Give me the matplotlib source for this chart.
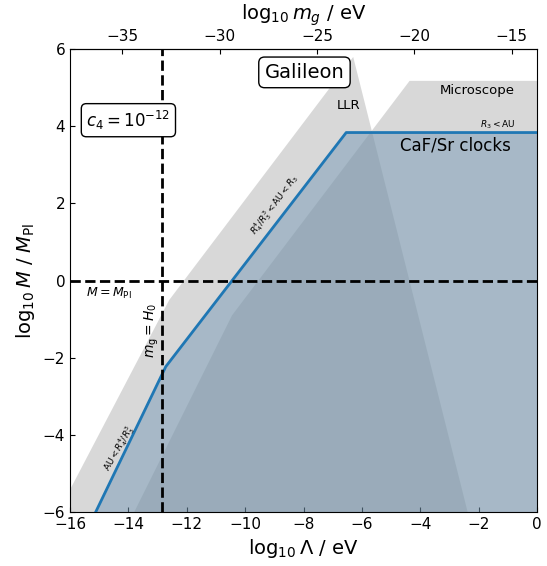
import numpy as np
import matplotlib
matplotlib.use('Agg')
import matplotlib.pyplot as plt

# Batas-batas daerah (log10 Lambda / eV, log10 M / M_Pl)
llr_x = [-16.4, -12.6, -6.3, -2.38]
llr_y = [-6.0, -0.5, 5.8, -6.0]

micro_x = [-13.8, -10.45, -4.37, 0.0, 0.0]
micro_y = [-6.0, -0.9, 5.18, 5.18, -6.0]

clock_x = [-15.12, -12.72, -6.54, 0.0]
clock_y = [-6.0, -2.23, 3.84, 3.84]

lam_H0 = -12.85
logMpl = 27.38


def lam_to_mg(lam):
    return (3 * lam - logMpl) / 2


def mg_to_lam(mg):
    return (2 * mg + logMpl) / 3


fig = plt.figure(figsize=(5.47, 5.66), dpi=100)
ax = fig.add_axes([0.128, 0.0954, 0.854, 0.8176])

# daerah abu-abu
ax.fill(llr_x, llr_y, color='gray', alpha=0.3, lw=0, zorder=1)
ax.fill(micro_x, micro_y, color='gray', alpha=0.3, lw=0, zorder=1)

# daerah jam atom
ax.fill_between(clock_x, clock_y, -6, color=(0.48, 0.61, 0.72), alpha=0.52, lw=0, zorder=2)
ax.plot(clock_x, clock_y, color='#1f77b4', lw=2, zorder=3)

# garis putus-putus
ax.axvline(lam_H0, color='k', ls='--', lw=2, zorder=4)
ax.axhline(0, color='k', ls='--', lw=2, zorder=4)

ax.set_xlim(-16, 0)
ax.set_ylim(-6, 6)
ax.set_xticks(np.arange(-16, 1, 2))
ax.set_yticks(np.arange(-6, 7, 2))
ax.tick_params(direction='in', labelsize=11, right=False)
ax.set_xlabel(r'$\log_{10}\Lambda$ / eV', fontsize=14)
ax.set_ylabel(r'$\log_{10}M$ / $M_{\rm Pl}$', fontsize=14)

top = ax.secondary_xaxis('top', functions=(lam_to_mg, mg_to_lam))
top.set_xticks([-35, -30, -25, -20, -15])
top.tick_params(direction='in', labelsize=11)
top.set_xlabel(r'$\log_{10}m_g$ / eV', fontsize=14, labelpad=7)

# teks
box = dict(boxstyle='round,pad=0.3', fc='white', ec='black', lw=1)
ax.text(-7.97, 5.4, 'Galileon', fontsize=14, ha='center', va='center', bbox=box, zorder=6)
ax.text(-14.0, 4.16, r'$c_4 = 10^{-12}$', fontsize=12, ha='center', va='center', bbox=box, zorder=6)
ax.text(-6.46, 4.55, 'LLR', fontsize=9.5, ha='center', va='center', zorder=5)
ax.text(-2.04, 4.94, 'Microscope', fontsize=9.5, ha='center', va='center', zorder=5)
ax.text(-1.35, 4.03, r'$R_3 <$AU', fontsize=6.5, ha='center', va='center', zorder=5)
ax.text(-2.8, 3.5, 'CaF/Sr clocks', fontsize=12, ha='center', va='center', zorder=5)
ax.text(-14.66, -0.32, r'$M = M_{\rm Pl}$', fontsize=9, ha='center', va='center', zorder=5)
ax.text(-13.2, -1.28, r'$m_{\rm g} = H_0$', fontsize=10, ha='center', va='center', rotation=90, zorder=5)
ax.text(-14.32, -4.34, r'AU$<R_4^4/R_3^3$', fontsize=6.5, ha='center', va='center', rotation=60, zorder=5)
ax.text(-9.0, 1.96, r'$R_4^4/R_3^3<$AU$<R_3$', fontsize=6.5, ha='center', va='center', rotation=53, zorder=5)

fig.savefig('out.png', dpi=100)
